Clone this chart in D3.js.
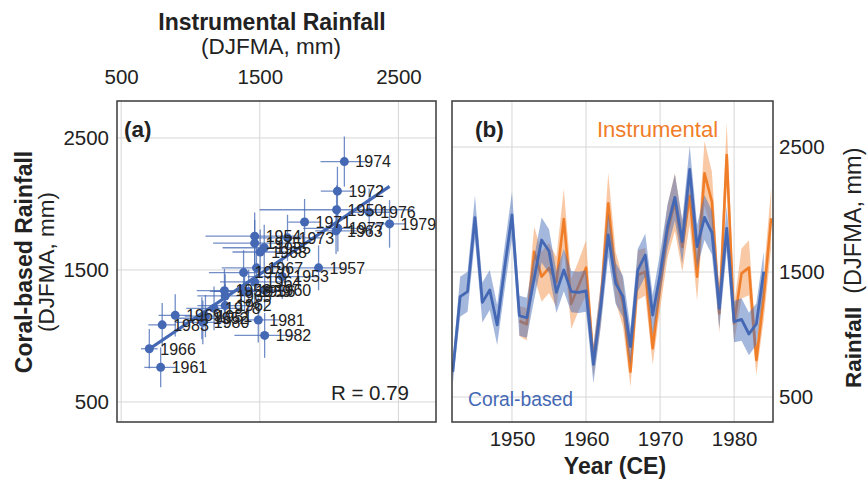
<!DOCTYPE html>
<html>
<head>
<meta charset="utf-8">
<script src="https://cdn.jsdelivr.net/npm/d3@7"></script>
<style>
  html, body { margin: 0; padding: 0; background: #fff; }
  svg { display: block; }
  text { font-family: "Liberation Sans", Arial, Helvetica, sans-serif; fill: #222; }
</style>
</head>
<body>
<svg id="chart" width="867" height="480"></svg>
<script>
// ---------------- DATA ----------------
const coralYears = d3.range(1942, 1985); // 1942..1984
const coralValues = [702, 1303, 1343, 1935, 1257, 1356, 1076, 1530, 1956, 1150,
  1134, 1450, 1756, 1668, 1337, 1516, 1343, 1337, 1348, 762,
  1230, 1796, 1409, 1303, 903, 1516, 1636, 1156, 1480, 1863,
  2097, 1743, 2321, 1703, 1937, 1815, 1209, 1849, 1103, 1121,
  1004, 1084, 1503];
const coralErr = [100, 160, 160, 175, 160, 160, 160, 175, 185, 160,
  160, 170, 180, 175, 165, 170, 165, 165, 165, 150,
  165, 175, 165, 165, 150, 170, 170, 160, 170, 175,
  185, 175, 190, 175, 180, 175, 165, 180, 165, 170,
  170, 165, 160];

const instYears = d3.range(1950, 1986); // 1950..1985
const instValues = [2054, 1108, 1082, 1662, 1463, 1532, 1420, 1924, 1245, 1390,
  1535, 785, 1250, 2050, 1463, 1250, 703, 1476, 1503, 890,
  1383, 1823, 2060, 1700, 2110, 1463, 2289, 2063, 1170, 2436,
  1089, 1489, 1535, 796, 1300, 1930];
const instBandErr = [0, 120, 130, 200, 200, 200, 200, 240, 200, 200,
  220, 120, 170, 240, 200, 190, 120, 200, 190, 130,
  180, 210, 230, 200, 230, 190, 260, 240, 160, 260,
  150, 200, 220, 120, 180, 240];
// horizontal error bars in the scatter panel (years 1950..1983)
const instBarErr = [555, 150, 200, 250, 355, 300, 250, 182, 200, 250,
  200, 118, 200, 150, 250, 200, 60, 250, 200, 120,
  250, 118, 120, 250, 172, 300, 150, 250, 200, 118,
  200, 154, 218, 100];
const scatterYears = d3.range(1950, 1984);
const tickValuesRain = [500, 1500, 2500];
const tickValuesYear = [1950, 1960, 1970, 1980];
const rText = "R = 0.79";

// ---------------- SETUP ----------------
const svg = d3.select("#chart");
const blue = "#4468b4";
const orange = "#f07d28";
const gridColor = "#d6d6d6";
const frameColor = "#3a3a3a";
const tickFont = 20.5;

const A = {x0: 117, x1: 436, y0: 101, y1: 422};
const B = {x0: 452, x1: 773, y0: 101, y1: 422};

const xA = d3.scaleLinear().domain([470, 2771]).range([A.x0, A.x1]);
const yA = d3.scaleLinear().domain([348, 2780]).range([A.y1, A.y0]);
const xB = d3.scaleLinear().domain([1941.9, 1985.25]).range([B.x0, B.x1]);
const yB = d3.scaleLinear().domain([300, 2868]).range([B.y1, B.y0]);

const coral = coralYears.map((y, i) => ({year: y, v: coralValues[i], e: coralErr[i]}));
const inst = instYears.map((y, i) => ({year: y, v: instValues[i], e: instBandErr[i]}));
const coralByYear = new Map(coral.map(d => [d.year, d]));
const instByYear = new Map(inst.map(d => [d.year, d]));
const pts = scatterYears.map((y, i) => ({
  year: y, x: instByYear.get(y).v, y: coralByYear.get(y).v,
  ex: instBarErr[i], ey: coralByYear.get(y).e
}));

// ---------------- PANEL A ----------------
const gA = svg.append("g");
gA.append("rect").attr("x", A.x0).attr("y", A.y0).attr("width", A.x1 - A.x0).attr("height", A.y1 - A.y0).attr("fill", "#fff");
gA.selectAll("line.gx").data(tickValuesRain).join("line")
  .attr("x1", d => xA(d)).attr("x2", d => xA(d)).attr("y1", A.y0).attr("y2", A.y1)
  .attr("stroke", gridColor).attr("stroke-width", 1);
gA.selectAll("line.gy").data(tickValuesRain).join("line")
  .attr("y1", d => yA(d)).attr("y2", d => yA(d)).attr("x1", A.x0).attr("x2", A.x1)
  .attr("stroke", gridColor).attr("stroke-width", 1);

svg.append("clipPath").attr("id", "clipA").append("rect")
  .attr("x", A.x0).attr("y", A.y0).attr("width", A.x1 - A.x0).attr("height", A.y1 - A.y0);
const gAc = gA.append("g").attr("clip-path", "url(#clipA)");

// error bars
gAc.selectAll("line.ex").data(pts).join("line")
  .attr("x1", d => xA(d.x - d.ex)).attr("x2", d => xA(d.x + d.ex))
  .attr("y1", d => yA(d.y)).attr("y2", d => yA(d.y))
  .attr("stroke", blue).attr("stroke-opacity", 0.75).attr("stroke-width", 1.3);
gAc.selectAll("line.ey").data(pts).join("line")
  .attr("x1", d => xA(d.x)).attr("x2", d => xA(d.x))
  .attr("y1", d => yA(d.y - d.ey)).attr("y2", d => yA(d.y + d.ey))
  .attr("stroke", blue).attr("stroke-opacity", 0.75).attr("stroke-width", 1.3);

// regression line
const mx = d3.mean(pts, d => d.x), my = d3.mean(pts, d => d.y);
const sxy = d3.sum(pts, d => (d.x - mx) * (d.y - my));
const sxx = d3.sum(pts, d => (d.x - mx) ** 2);
const slope = sxy / sxx, icpt = my - slope * mx;
const xr = d3.extent(pts, d => d.x);
gAc.append("line")
  .attr("x1", xA(xr[0])).attr("y1", yA(icpt + slope * xr[0]))
  .attr("x2", xA(xr[1])).attr("y2", yA(icpt + slope * xr[1]))
  .attr("stroke", blue).attr("stroke-width", 3.2);

gAc.selectAll("circle").data(pts).join("circle")
  .attr("cx", d => xA(d.x)).attr("cy", d => yA(d.y)).attr("r", 4.5)
  .attr("fill", blue);

gA.selectAll("text.yr").data(pts).join("text")
  .attr("x", d => xA(d.x) + 11).attr("y", d => yA(d.y)).attr("dy", "0.36em")
  .attr("font-size", 16).text(d => d.year);

gA.append("rect").attr("x", A.x0).attr("y", A.y0).attr("width", A.x1 - A.x0).attr("height", A.y1 - A.y0)
  .attr("fill", "none").attr("stroke", frameColor).attr("stroke-width", 1.5);

gA.append("text").attr("x", 124).attr("y", 137).attr("font-size", 22.5).attr("font-weight", "bold").text("(a)");
gA.append("text").attr("x", 409).attr("y", 400).attr("text-anchor", "end").attr("font-size", 20.5).text(rText);

// axes A
const axTop = svg.append("g").attr("transform", `translate(0,${A.y0})`)
  .call(d3.axisTop(xA).tickValues(tickValuesRain).tickSize(0).tickPadding(17).tickFormat(d3.format("d")));
const axLeft = svg.append("g").attr("transform", `translate(${A.x0},0)`)
  .call(d3.axisLeft(yA).tickValues(tickValuesRain).tickSize(0).tickPadding(8).tickFormat(d3.format("d")));
[axTop, axLeft].forEach(g => {
  g.select(".domain").remove();
  g.selectAll("text").attr("font-size", tickFont).attr("fill", "#222")
    .attr("font-family", "'Liberation Sans', Arial, sans-serif");
});

svg.append("text").attr("x", 272).attr("y", 30).attr("text-anchor", "middle")
  .attr("font-size", 23).attr("font-weight", "bold").text("Instrumental Rainfall");
svg.append("text").attr("x", 271).attr("y", 54).attr("text-anchor", "middle")
  .attr("font-size", 22.5).text("(DJFMA, mm)");
svg.append("text").attr("transform", "translate(32,262) rotate(-90)").attr("text-anchor", "middle")
  .attr("font-size", 23).attr("font-weight", "bold").text("Coral-based Rainfall");
svg.append("text").attr("transform", "translate(54,262) rotate(-90)").attr("text-anchor", "middle")
  .attr("font-size", 22.5).text("(DJFMA, mm)");

// ---------------- PANEL B ----------------
const gB = svg.append("g");
gB.selectAll("line.gx").data(tickValuesYear).join("line")
  .attr("x1", d => xB(d)).attr("x2", d => xB(d)).attr("y1", B.y0).attr("y2", B.y1)
  .attr("stroke", gridColor).attr("stroke-width", 1);
gB.selectAll("line.gy").data(tickValuesRain).join("line")
  .attr("y1", d => yB(d)).attr("y2", d => yB(d)).attr("x1", B.x0).attr("x2", B.x1)
  .attr("stroke", gridColor).attr("stroke-width", 1);

svg.append("clipPath").attr("id", "clipB").append("rect")
  .attr("x", B.x0).attr("y", B.y0).attr("width", B.x1 - B.x0).attr("height", B.y1 - B.y0);
const gBc = gB.append("g").attr("clip-path", "url(#clipB)");

const instB = inst.filter(d => d.year >= 1951);
const area = d3.area().x(d => xB(d.year)).y0(d => yB(d.v - d.e)).y1(d => yB(d.v + d.e));
const line = d3.line().x(d => xB(d.year)).y(d => yB(d.v));

gBc.append("path").datum(instB).attr("d", area).attr("fill", "#f5a468").attr("fill-opacity", 0.6);
gBc.append("path").datum(instB).attr("d", line).attr("fill", "none").attr("stroke", orange)
  .attr("stroke-width", 2.6).attr("stroke-linejoin", "round");
gBc.append("path").datum(coral).attr("d", area).attr("fill", "#4a6fba").attr("fill-opacity", 0.5);
gBc.append("path").datum(coral).attr("d", line).attr("fill", "none").attr("stroke", blue)
  .attr("stroke-width", 2.8).attr("stroke-linejoin", "round");

gB.append("rect").attr("x", B.x0).attr("y", B.y0).attr("width", B.x1 - B.x0).attr("height", B.y1 - B.y0)
  .attr("fill", "none").attr("stroke", frameColor).attr("stroke-width", 1.5);

gB.append("text").attr("x", 475).attr("y", 137).attr("font-size", 22.5).attr("font-weight", "bold").text("(b)");
gB.append("text").attr("x", 597).attr("y", 137).attr("font-size", 22).style("fill", orange).text("Instrumental");
gB.append("text").attr("x", 468).attr("y", 406).attr("font-size", 19.3).style("fill", blue).text("Coral-based");

const axBottom = svg.append("g").attr("transform", `translate(0,${B.y1})`)
  .call(d3.axisBottom(xB).tickValues(tickValuesYear).tickSize(0).tickPadding(9).tickFormat(d3.format("d")));
const axRight = svg.append("g").attr("transform", `translate(${B.x1},0)`)
  .call(d3.axisRight(yB).tickValues(tickValuesRain).tickSize(0).tickPadding(6).tickFormat(d3.format("d")));
[axBottom, axRight].forEach(g => {
  g.select(".domain").remove();
  g.selectAll("text").attr("font-size", tickFont).attr("fill", "#222")
    .attr("font-family", "'Liberation Sans', Arial, sans-serif");
});

svg.append("text").attr("x", 615).attr("y", 474).attr("text-anchor", "middle")
  .attr("font-size", 23).attr("font-weight", "bold").text("Year (CE)");

const rt = svg.append("text").attr("transform", "translate(861,388) rotate(-90)").attr("text-anchor", "start")
  .attr("font-size", 23.5);
rt.append("tspan").attr("font-weight", "bold").attr("font-size", 22.5).text("Rainfall");
rt.append("tspan").attr("dx", 13).text("(DJFMA, mm)");
</script>
</body>
</html>
